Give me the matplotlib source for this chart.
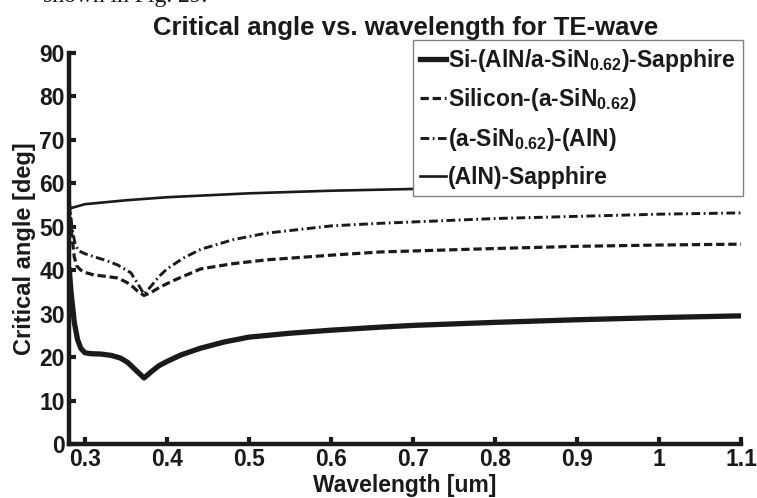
import numpy as np
import matplotlib
matplotlib.use("Agg")
import matplotlib.pyplot as plt

# values
wl_si_stack = [0.281, 0.283, 0.287, 0.291, 0.295, 0.300, 0.307, 0.320, 0.332, 0.343,
               0.352, 0.362, 0.372, 0.380, 0.390, 0.400, 0.417, 0.440, 0.470, 0.500,
               0.550, 0.600, 0.660, 0.700, 0.800, 0.900, 1.000, 1.100]
ang_si_stack = [40.0, 35.0, 28.0, 24.0, 22.0, 21.0, 20.8, 20.7, 20.4, 19.8,
                18.8, 17.0, 15.2, 16.5, 18.0, 19.0, 20.5, 22.0, 23.5, 24.6,
                25.5, 26.2, 26.9, 27.3, 28.0, 28.6, 29.1, 29.5]

wl_si_sin = [0.281, 0.284, 0.287, 0.290, 0.295, 0.300, 0.311, 0.325, 0.340, 0.350,
             0.356, 0.364, 0.372, 0.380, 0.392, 0.410, 0.441, 0.480, 0.522, 0.603,
             0.660, 0.800, 0.900, 1.000, 1.100]
ang_si_sin = [55.0, 48.0, 43.0, 41.0, 40.0, 39.5, 38.9, 38.6, 38.2, 37.3,
              36.6, 35.2, 34.2, 34.8, 36.2, 37.8, 40.3, 41.5, 42.4, 43.5,
              44.2, 45.0, 45.5, 45.8, 46.0]

wl_sin_aln = [0.281, 0.284, 0.288, 0.292, 0.300, 0.311, 0.325, 0.340, 0.356, 0.364,
              0.372, 0.380, 0.390, 0.400, 0.420, 0.441, 0.480, 0.520, 0.600, 0.660,
              0.800, 0.900, 1.000, 1.100]
ang_sin_aln = [56.0, 50.0, 46.0, 44.5, 43.8, 43.1, 42.3, 41.2, 39.4, 37.0,
               34.5, 36.2, 38.5, 40.3, 42.8, 44.8, 47.0, 48.5, 50.2, 50.8,
               51.9, 52.4, 52.9, 53.2]

wl_aln_sap = [0.281, 0.300, 0.350, 0.400, 0.500, 0.600, 0.700, 0.800, 0.900, 1.000, 1.100]
ang_aln_sap = [54.2, 55.2, 56.1, 56.8, 57.7, 58.3, 58.7, 59.0, 59.2, 59.4, 59.5]

labels = [r"Si-(AlN/a-SiN$_{0.62}$)-Sapphire",
          r"Silicon-(a-SiN$_{0.62}$)",
          r"(a-SiN$_{0.62}$)-(AlN)",
          r"(AlN)-Sapphire"]
x_ticks = [0.3, 0.4, 0.5, 0.6, 0.7, 0.8, 0.9, 1.0, 1.1]
x_ticklabels = ["0.3", "0.4", "0.5", "0.6", "0.7", "0.8", "0.9", "1", "1.1"]
y_ticks = [0, 10, 20, 30, 40, 50, 60, 70, 80, 90]

plt.rcParams["font.family"] = ["Liberation Sans", "DejaVu Sans"]
plt.rcParams["font.weight"] = "bold"
plt.rcParams["mathtext.fontset"] = "custom"
plt.rcParams["mathtext.rm"] = "Liberation Sans:bold"
plt.rcParams["mathtext.default"] = "rm"

fig = plt.figure(figsize=(7.57, 4.98), dpi=100)
ax = fig.add_axes([0.0911, 0.1084, 0.888, 0.7852])

ink = "#1a1a1a"
ax.plot(wl_si_stack, ang_si_stack, color=ink, lw=3.8, label=labels[0],
        solid_joinstyle="round")
ax.plot(wl_si_sin, ang_si_sin, color=ink, lw=2.3, dashes=(2.6, 1.2), label=labels[1])
ax.plot(wl_sin_aln, ang_sin_aln, color=ink, lw=2.1,
        dashes=(3.0, 1.2, 0.6, 1.2), label=labels[2])
ax.plot(wl_aln_sap, ang_aln_sap, color=ink, lw=1.9, label=labels[3])

ax.set_xlim(0.2805, 1.1)
ax.set_ylim(0, 90)
ax.set_xticks(x_ticks)
ax.set_xticklabels(x_ticklabels)
ax.set_yticks(y_ticks)

for side in ["top", "right"]:
    ax.spines[side].set_visible(False)
for side in ["left", "bottom"]:
    ax.spines[side].set_linewidth(3.2)
    ax.spines[side].set_color(ink)
ax.tick_params(direction="in", length=5, width=3, labelsize=16.5, colors=ink, pad=3)
for lab in ax.get_xticklabels() + ax.get_yticklabels():
    lab.set_fontweight("bold")

ax.set_xlabel("Wavelength [um]", fontsize=16.5, fontweight="bold", color=ink, labelpad=2)
ax.set_ylabel("Critical angle [deg]", fontsize=17, fontweight="bold", color=ink, labelpad=2)
fig.text(0.536, 0.944, "Critical angle vs. wavelength for TE-wave", ha="center", va="center",
         fontsize=18.5, fontweight="bold", color=ink)

# cropped line of the page text above the chart
fig.text(207 / 757, 1 - 2 / 498, "shown in Fig. 29.", ha="right", va="baseline",
         fontsize=17, family="Liberation Serif", fontweight="normal", color=ink)

leg = ax.legend(loc="upper right", bbox_to_anchor=(0.981, 0.9197),
                bbox_transform=fig.transFigure, fontsize=16.5, frameon=True,
                fancybox=False, edgecolor="#808080", framealpha=1,
                handlelength=1.15, handletextpad=0.1, borderpad=0.3,
                labelspacing=0.55, borderaxespad=0)
leg.get_frame().set_linewidth(1.0)
for t in leg.get_texts():
    t.set_fontweight("bold")
    t.set_color(ink)

fig.savefig("out.png", dpi=100)
